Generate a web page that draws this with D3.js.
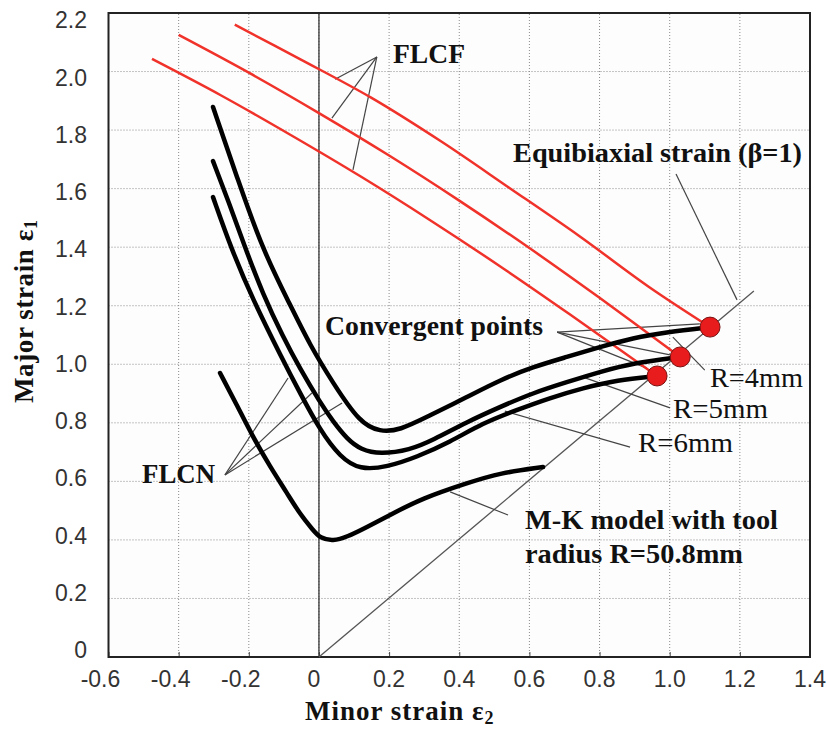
<!DOCTYPE html>
<html>
<head>
<meta charset="utf-8">
<script src="https://d3js.org/d3.v7.min.js"></script>
<style>
  body { margin: 0; background: white; }
  .tick-label { font-family: "Liberation Sans", Arial, sans-serif; font-size: 23px; fill: #333; }
  .note { font-family: "Liberation Serif", "Times New Roman", serif; fill: #111; }
</style>
</head>
<body>
<svg id="chart" width="827" height="729"></svg>
<script>
// tick values and labels
var xTicks = [-0.6, -0.4, -0.2, 0, 0.2, 0.4, 0.6, 0.8, 1.0, 1.2, 1.4];
var xTickLabels = ["-0.6", "-0.4", "-0.2", "0", "0.2", "0.4", "0.6", "0.8", "1.0", "1.2", "1.4"];
var yTicks = [0, 0.2, 0.4, 0.6, 0.8, 1.0, 1.2, 1.4, 1.6, 1.8, 2.0, 2.2];
var yTickLabels = ["0", "0.2", "0.4", "0.6", "0.8", "1.0", "1.2", "1.4", "1.6", "1.8", "2.0", "2.2"];

// FLCF curves (red) [minor, major]
var flcfR4 = [[-0.24, 2.16], [-0.05, 2.04], [0.15, 1.91], [0.35, 1.76], [0.54, 1.605], [0.74, 1.44], [0.94, 1.265], [1.115, 1.127]];
var flcfR5 = [[-0.40, 2.125], [-0.20, 1.996], [0.0, 1.858], [0.20, 1.713], [0.40, 1.559], [0.60, 1.397], [0.80, 1.227], [1.03, 1.025]];
var flcfR6 = [[-0.476, 2.043], [-0.28, 1.919], [-0.083, 1.785], [0.117, 1.643], [0.316, 1.493], [0.516, 1.335], [0.716, 1.170], [0.964, 0.960]];

// FLCN curves (black)
var flcnR4 = [[-0.302, 1.879], [-0.231, 1.629], [-0.160, 1.390], [-0.083, 1.205], [-0.026, 1.066], [0.040, 0.936],
  [0.117, 0.799], [0.174, 0.769], [0.231, 0.775], [0.308, 0.820], [0.422, 0.888], [0.516, 0.946], [0.610, 0.991],
  [0.707, 1.025], [0.801, 1.059], [0.895, 1.090], [0.992, 1.110], [1.115, 1.127]];
var flcnR5 = [[-0.302, 1.694], [-0.254, 1.544], [-0.211, 1.400], [-0.160, 1.240], [-0.103, 1.095], [-0.054, 0.985],
  [0.003, 0.870], [0.040, 0.805], [0.080, 0.745], [0.120, 0.708], [0.174, 0.693], [0.259, 0.707], [0.325, 0.741],
  [0.422, 0.803], [0.516, 0.854], [0.610, 0.902], [0.707, 0.939], [0.801, 0.974], [0.895, 1.004], [1.03, 1.025]];
var flcnR6 = [[-0.302, 1.571], [-0.250, 1.395], [-0.190, 1.225], [-0.103, 1.015], [-0.054, 0.902], [0.003, 0.775],
  [0.060, 0.683], [0.117, 0.639], [0.194, 0.649], [0.279, 0.683], [0.373, 0.734], [0.467, 0.799], [0.564, 0.844],
  [0.658, 0.885], [0.753, 0.919], [0.849, 0.946], [0.964, 0.960]];

// M-K model, R=50.8mm
var mkCurve = [[-0.282, 0.970], [-0.234, 0.861], [-0.188, 0.751], [-0.140, 0.652], [-0.091, 0.560], [-0.054, 0.488],
  [-0.017, 0.434], [0.003, 0.406], [0.040, 0.396], [0.080, 0.410], [0.137, 0.444], [0.202, 0.485], [0.296, 0.543],
  [0.422, 0.594], [0.516, 0.629], [0.639, 0.649]];

// equibiaxial path (beta = 1) and convergent points
var equibiaxial = [[0, 0], [1.24, 1.25]];
var convergent = [[1.115, 1.127], [1.03, 1.025], [0.964, 0.960]];

// annotation leader lines, in data units
var leaders = [
  [[0.165, 2.050], [0.046, 1.974]], [[0.165, 2.050], [0.037, 1.841]], [[0.165, 2.050], [0.097, 1.664]],
  [[1.018, 1.650], [1.192, 1.220]],
  [[0.679, 1.110], [1.086, 1.138]], [[0.679, 1.110], [1.001, 1.032]], [[0.679, 1.110], [0.935, 0.987]],
  [[1.100, 0.980], [1.009, 1.093]],
  [[1.001, 0.851], [0.753, 0.956]],
  [[0.887, 0.717], [0.530, 0.840]],
  [[-0.268, 0.622], [-0.088, 0.953]], [[-0.268, 0.622], [-0.020, 0.902]], [[-0.268, 0.622], [0.066, 0.868]],
  [[0.539, 0.485], [0.374, 0.564]]
];

var svg = d3.select("#chart");
svg.append("rect").attr("width", 827).attr("height", 729).attr("fill", "white");

var x = d3.scaleLinear().domain([-0.6, 1.4]).range([108.5, 810]);
var y = d3.scaleLinear().domain([0, 2.2]).range([657, 13]);
// labels on the left sit a touch off the grid lines in the original
var yLab = d3.scaleLinear().domain([0, 2.2]).range([650, 20]);

svg.append("rect")
  .attr("x", x(-0.6)).attr("y", y(2.2))
  .attr("width", x(1.4) - x(-0.6)).attr("height", y(0) - y(2.2))
  .attr("fill", "#fdfdfd");

// dotted grid
svg.append("g").selectAll("line")
  .data(xTicks.slice(1, -1))
  .join("line")
  .attr("x1", d => x(d)).attr("x2", d => x(d))
  .attr("y1", y(0)).attr("y2", y(2.2))
  .attr("stroke", "#8a8a8a").attr("stroke-width", 1).attr("stroke-dasharray", "1,2");
svg.append("g").selectAll("line")
  .data(yTicks.slice(1, -1))
  .join("line")
  .attr("y1", d => y(d)).attr("y2", d => y(d))
  .attr("x1", x(-0.6)).attr("x2", x(1.4))
  .attr("stroke", "#8a8a8a").attr("stroke-width", 1).attr("stroke-dasharray", "1,2");

// small inner ticks along the bottom
var xAxis = svg.append("g")
  .attr("transform", "translate(0," + y(0) + ")")
  .call(d3.axisBottom(x).tickValues(xTicks).tickSize(-5).tickFormat(""));
xAxis.select(".domain").remove();
xAxis.selectAll(".tick line").attr("stroke", "#444");

// tick labels
svg.append("g").selectAll("text")
  .data(xTicks)
  .join("text")
  .attr("class", "tick-label")
  .attr("x", d => x(d) + (d < 0 ? -8 : (d === 0 ? -5 : 0)))
  .attr("y", 687)
  .attr("text-anchor", "middle")
  .text((d, i) => xTickLabels[i]);
svg.append("g").selectAll("text")
  .data(yTicks)
  .join("text")
  .attr("class", "tick-label")
  .attr("x", 87)
  .attr("y", d => yLab(d))
  .attr("dy", "0.36em")
  .attr("text-anchor", "end")
  .text((d, i) => yTickLabels[i]);

// minor strain = 0 line
svg.append("line")
  .attr("x1", x(0)).attr("x2", x(0)).attr("y1", y(0)).attr("y2", y(2.2))
  .attr("stroke", "#333").attr("stroke-width", 1.3);

// frame
svg.append("rect")
  .attr("x", x(-0.6)).attr("y", y(2.2))
  .attr("width", x(1.4) - x(-0.6)).attr("height", y(0) - y(2.2))
  .attr("fill", "none").attr("stroke", "#222").attr("stroke-width", 2);

var redLine = d3.line().x(d => x(d[0])).y(d => y(d[1])).curve(d3.curveCatmullRom.alpha(0.5));
var blackLine = d3.line().x(d => x(d[0])).y(d => y(d[1])).curve(d3.curveBasis);
var straight = d3.line().x(d => x(d[0])).y(d => y(d[1]));

// equibiaxial line and leaders
svg.append("path").attr("d", straight(equibiaxial))
  .attr("fill", "none").attr("stroke", "#555").attr("stroke-width", 1.3);
svg.append("g").selectAll("path")
  .data(leaders)
  .join("path")
  .attr("d", straight)
  .attr("fill", "none").attr("stroke", "#444").attr("stroke-width", 1.2);

// FLCF (red)
svg.append("g").selectAll("path")
  .data([flcfR4, flcfR5, flcfR6])
  .join("path")
  .attr("d", redLine)
  .attr("fill", "none").attr("stroke", "#f0322a").attr("stroke-width", 2.5);

// FLCN and M-K (black)
svg.append("g").selectAll("path")
  .data([flcnR4, flcnR5, flcnR6, mkCurve])
  .join("path")
  .attr("d", blackLine)
  .attr("fill", "none").attr("stroke", "#000").attr("stroke-width", 4.5)
  .attr("stroke-linejoin", "round").attr("stroke-linecap", "round");

// convergent points
svg.append("g").selectAll("circle")
  .data(convergent)
  .join("circle")
  .attr("cx", d => x(d[0])).attr("cy", d => y(d[1]))
  .attr("r", 10)
  .attr("fill", "#e81c1c").attr("stroke", "#7a1212").attr("stroke-width", 1);

// annotation texts
function note(txt, px, py, len, bold) {
  svg.append("text")
    .attr("class", "note")
    .attr("x", px).attr("y", py)
    .attr("font-size", bold ? "27px" : "28px")
    .attr("font-weight", bold ? "bold" : "normal")
    .attr("textLength", len)
    .attr("lengthAdjust", "spacingAndGlyphs")
    .text(txt);
}
note("FLCF", 393, 63, 72, true);
note("Equibiaxial strain (\u03b2=1)", 513, 162, 289, true);
note("Convergent points", 325, 335, 218, true);
note("R=4mm", 710, 387, 93, false);
note("R=5mm", 673, 418, 95, false);
note("R=6mm", 638, 452, 95, false);
note("FLCN", 142, 483, 73, true);
note("M-K model with tool", 525, 529, 253, true);
note("radius R=50.8mm", 525, 563, 218, true);

// axis titles
var xt = svg.append("text")
  .attr("class", "note")
  .attr("x", 305).attr("y", 720)
  .attr("font-size", "27px").attr("font-weight", "bold")
  .attr("letter-spacing", "1px");
xt.append("tspan").text("Minor strain \u03b5");
xt.append("tspan").attr("font-size", "18px").attr("dy", 4).text("2");

var yt = svg.append("text")
  .attr("class", "note")
  .attr("transform", "translate(33,403) rotate(-90)")
  .attr("font-size", "27px").attr("font-weight", "bold")
  .attr("letter-spacing", "0.6px");
yt.append("tspan").text("Major strain \u03b5");
yt.append("tspan").attr("font-size", "18px").attr("dy", 4).text("1");
</script>
</body>
</html>
